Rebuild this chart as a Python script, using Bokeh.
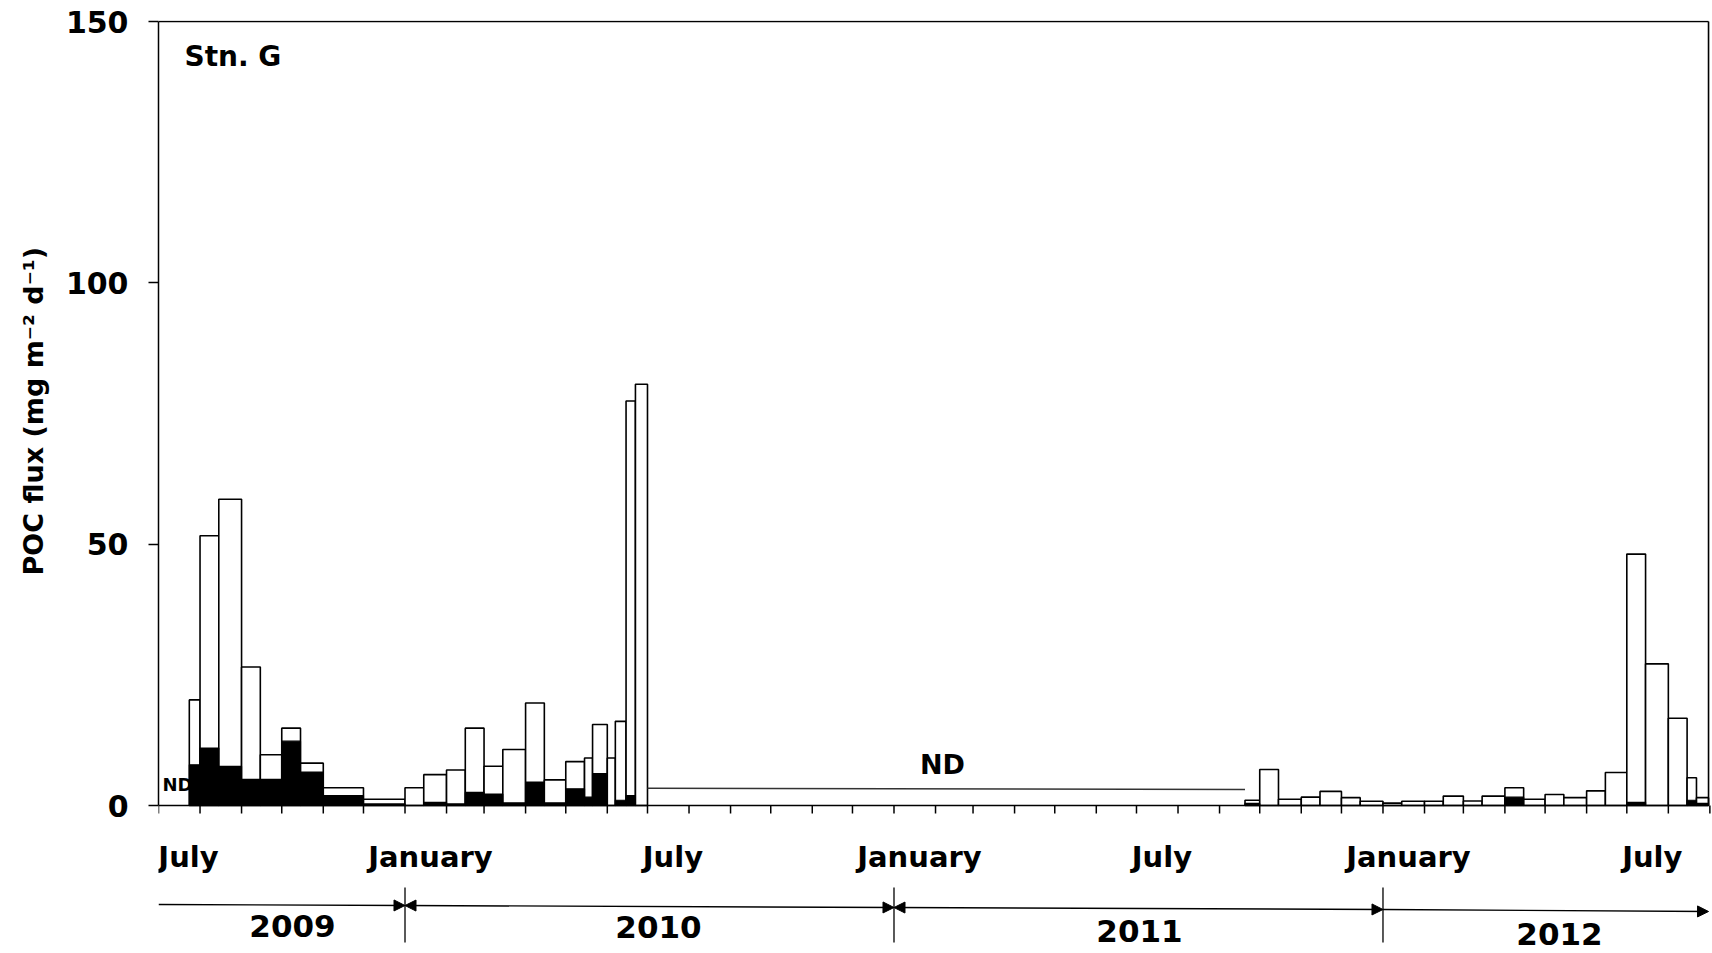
import pandas as pd
from bokeh.plotting import figure
from bokeh.models import Range1d, FixedTicker, Arrow, NormalHead, Title
from bokeh.core.properties import value
from bokeh.embed import file_html
from bokeh.resources import INLINE

# ---------------- data ----------------
period_start = ["2009-07-24", "2009-08-01", "2009-08-15", "2009-09-01", "2009-09-15", "2009-10-01",
                "2009-10-15", "2009-11-01", "2009-12-01",
                "2010-01-01", "2010-01-15", "2010-02-01", "2010-02-15", "2010-03-01", "2010-03-15",
                "2010-04-01", "2010-04-15", "2010-05-01", "2010-05-15", "2010-05-21", "2010-06-01",
                "2010-06-07", "2010-06-15", "2010-06-22",
                "2011-09-20", "2011-10-01", "2011-10-15", "2011-11-01", "2011-11-15", "2011-12-01",
                "2011-12-15",
                "2012-01-01", "2012-01-15", "2012-02-01", "2012-02-15", "2012-03-01", "2012-03-15",
                "2012-04-01", "2012-04-15", "2012-05-01", "2012-05-15", "2012-06-01", "2012-06-15",
                "2012-07-01", "2012-07-15", "2012-08-01", "2012-08-15", "2012-08-22"]
period_end = ["2009-08-01", "2009-08-15", "2009-09-01", "2009-09-15", "2009-10-01", "2009-10-15",
              "2009-11-01", "2009-12-01", "2010-01-01",
              "2010-01-15", "2010-02-01", "2010-02-15", "2010-03-01", "2010-03-15", "2010-04-01",
              "2010-04-15", "2010-05-01", "2010-05-15", "2010-05-21", "2010-06-01", "2010-06-07",
              "2010-06-15", "2010-06-22", "2010-07-01",
              "2011-10-01", "2011-10-15", "2011-11-01", "2011-11-15", "2011-12-01", "2011-12-15",
              "2012-01-01",
              "2012-01-15", "2012-02-01", "2012-02-15", "2012-03-01", "2012-03-15", "2012-04-01",
              "2012-04-15", "2012-05-01", "2012-05-15", "2012-06-01", "2012-06-15", "2012-07-01",
              "2012-07-15", "2012-08-01", "2012-08-15", "2012-08-22", "2012-08-31"]
total_poc = [20.2, 51.6, 58.6, 26.5, 9.7, 14.8, 8.1, 3.4, 1.2,
             3.4, 5.9, 6.8, 14.8, 7.5, 10.7, 19.6, 4.9, 8.4, 9.1, 15.5, 9.1, 16.1, 77.4, 80.6,
             1.0, 6.9, 1.2, 1.6, 2.7, 1.5, 0.8,
             0.45, 0.8, 0.8, 1.8, 0.85, 1.8, 3.4, 1.2, 2.1, 1.5, 2.8, 6.3, 48.1, 27.1, 16.7, 5.3, 1.5]
black_poc = [7.8, 11.0, 7.5, 5.0, 5.0, 12.3, 6.4, 1.9, 0.3,
             0.0, 0.6, 0.3, 2.5, 2.2, 0.5, 4.5, 0.5, 3.2, 1.6, 6.1, 0.0, 1.0, 1.9, 0.0,
             0.4, 0.0, 0.0, 0.0, 0.0, 0.0, 0.0,
             0.0, 0.0, 0.0, 0.0, 0.0, 0.0, 1.6, 0.0, 0.0, 0.0, 0.0, 0.0, 0.6, 0.0, 0.0, 1.0, 0.4]

nd_period = ["2010-07-01", "2011-09-20"]
nd_level = [3.3, 3.05]

month_names = ["July", "January", "July", "January", "July", "January", "July"]
month_starts = ["2009-07-01", "2010-01-01", "2010-07-01", "2011-01-01", "2011-07-01", "2012-01-01", "2012-07-01"]

years = ["2009", "2010", "2011", "2012"]
year_start = ["2009-07-01", "2010-01-01", "2011-01-01", "2012-01-01"]
year_end = ["2010-01-01", "2011-01-01", "2012-01-01", "2012-08-31"]

y_ticks = [0, 50, 100, 150]
axis_start = "2009-07-01"
axis_end = "2012-08-31"

# ---------------- helpers ----------------
DAY = 86400000.0


def ms(d):
    return pd.Timestamp(d).value / 1e6


PXU = 150.0 / 784.0        # data units per screen pixel (vertical)
PXD = 1.3397               # screen pixels per day (horizontal)
X0 = ms(axis_start)
XE = ms(axis_end)
XR = X0 + (1711 - 158) / PXD * DAY
H = 952


def ypx(Y):   # screen pixel row -> data y
    return (805.0 - Y) * PXU


def xpx(X):   # screen pixel column -> data x
    return X0 + (X - 158.0) / PXD * DAY


FONT = value("DejaVu Sans")

p = figure(width=1711, height=H, x_axis_type="datetime", x_axis_location=None,
           x_range=Range1d(X0, XR), y_range=Range1d(ypx(H), 150 + PXU),
           toolbar_location=None, output_backend="svg",
           min_border_left=158, min_border_right=0, min_border_top=20, min_border_bottom=0)
p.outline_line_color = None
p.grid.visible = False
p.background_fill_color = "white"

ax = p.yaxis[0]
ax.ticker = FixedTicker(ticks=y_ticks)
ax.bounds = (0, 150)
ax.major_tick_out = 10
ax.major_tick_in = 0
ax.minor_tick_out = 0
ax.minor_tick_in = 0
ax.axis_line_width = 1.5
ax.major_tick_line_width = 1.5
ax.major_label_text_font = "DejaVu Sans"
ax.major_label_text_font_style = "bold"
ax.major_label_text_font_size = "30px"
ax.major_label_text_color = "black"
ax.major_label_standoff = 20

# y-axis title as a side-panel title; starts at the bottom of the frame and is
# shifted up so that it sits beside the 0-150 part of the axis
p.add_layout(Title(text="POC flux (mg m\u207b\u00b2 d\u207b\u00b9)", align="left", offset=H - 575,
                   text_font="DejaVu Sans", text_font_style="bold", text_font_size="27px",
                   text_color="black", standoff=28), "left")

# bars
starts = [ms(d) for d in period_start]
ends = [ms(d) for d in period_end]
p.quad(left=starts, right=ends, bottom=0, top=total_poc, fill_color="white",
       line_color="black", line_width=1.6)
bi = [i for i, b in enumerate(black_poc) if b > 0]
p.quad(left=[starts[i] for i in bi], right=[ends[i] for i in bi], bottom=0,
       top=[black_poc[i] for i in bi], fill_color="black", line_color="black", line_width=1.2)

# frame lines: x axis line, top, right border
p.line([X0, XE], [0, 0], line_color="black", line_width=1.6)
p.line([X0, XE], [150, 150], line_color="black", line_width=1.6)
p.line([XE, XE], [0, 150], line_color="black", line_width=1.6)

# monthly ticks
ticks = [t.value / 1e6 for t in pd.date_range(axis_start, "2012-09-01", freq="MS")]
p.segment(x0=ticks, y0=[0] * len(ticks), x1=ticks, y1=[-8 * PXU] * len(ticks),
          line_color="black", line_width=1.5)

# ND gap line
p.line([ms(d) for d in nd_period], nd_level, line_color="#333333", line_width=1.6)

# texts
p.text(x=[xpx(184)], y=[ypx(56)], text=["Stn. G"], text_font=FONT, text_font_style="bold",
       text_font_size="28px", text_align="left", text_baseline="middle", text_color="black")
p.text(x=[xpx(162)], y=[ypx(784)], text=["ND"], text_font=FONT, text_font_style="bold",
       text_font_size="18px", text_align="left", text_baseline="middle", text_color="black")
p.text(x=[xpx(942)], y=[ypx(764)], text=["ND"], text_font=FONT, text_font_style="bold",
       text_font_size="27px", text_align="center", text_baseline="middle", text_color="black")

# month labels (centred a little after the 1st of the month, kept inside the frame)
mx = [max(ms(d) + 19 * DAY, xpx(188)) for d in month_starts]
p.text(x=mx, y=[ypx(856)] * len(month_names), text=month_names, text_font=FONT,
       text_font_style="bold", text_font_size="29px", text_align="center",
       text_baseline="middle", text_color="black")

# year arrows
arrow_y = [(904, 905), (905, 907), (907, 909), (909, 911)]
heads = [(False, True), (True, True), (True, True), (False, True)]
for i, y in enumerate(years):
    xs, xe = ms(year_start[i]), ms(year_end[i])
    kw = {}
    if heads[i][0]:
        kw["start"] = NormalHead(size=11, fill_color="black", line_color="black", line_width=1)
    kw["end"] = NormalHead(size=11, fill_color="black", line_color="black", line_width=1)
    p.add_layout(Arrow(x_start=xs, y_start=ypx(arrow_y[i][0]), x_end=xe, y_end=ypx(arrow_y[i][1]),
                       line_color="black", line_width=1.4, **kw))

# year dividers
div_x = [ms(d) for d in year_start[1:]]
p.segment(x0=div_x, y0=[ypx(887)] * 3, x1=div_x, y1=[ypx(942)] * 3, line_color="black", line_width=1.3)

# year labels
year_cx = [292, 658, 1139, 1559]
year_cy = [925, 926, 930, 933]
p.text(x=[xpx(c) for c in year_cx], y=[ypx(c) for c in year_cy], text=years, text_font=FONT,
       text_font_style="bold", text_font_size="31px", text_align="center", text_baseline="middle",
       text_color="black")

open("out.html", "w").write(file_html(p, INLINE))
